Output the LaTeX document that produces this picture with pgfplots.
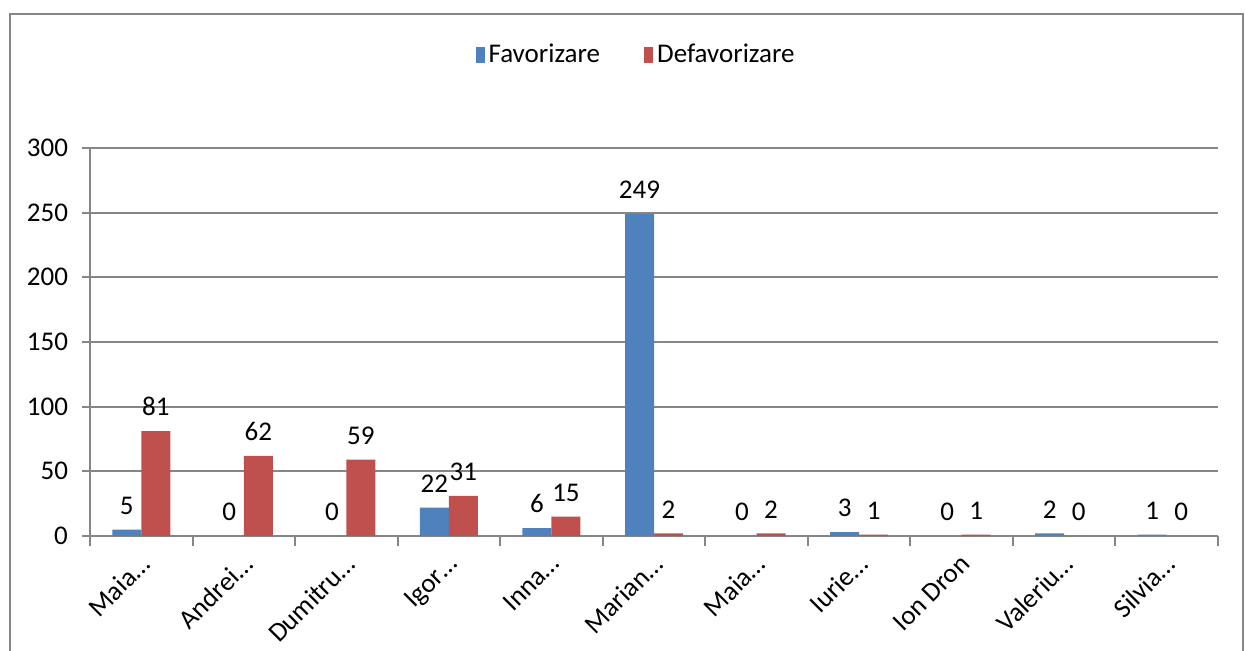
\documentclass[border=0pt]{standalone}
\usepackage{fontspec}
\setmainfont{Carlito}
\usepackage{pgfplots}
\pgfplotsset{compat=1.18}
\definecolor{fav}{RGB}{79,129,189}
\definecolor{def}{RGB}{192,80,77}
\definecolor{gridg}{RGB}{134,134,134}
\begin{document}
\begin{tikzpicture}
\useasboundingbox (0pt,0pt) rectangle (622.5pt,325.5pt);
\draw[gridg, line width=1pt] (5pt,-10pt) rectangle (621.5pt,318.5pt);
\begin{axis}[
  at={(45pt,57.5pt)}, anchor=south west,
  scale only axis, width=564pt, height=194pt,
  font=\fontsize{13.5}{15}\selectfont,
  /pgf/number format/assume math mode=true,
  ymin=0, ymax=300, ytick={0,50,...,300},
  xmin=-0.5, xmax=10.5,
  xtick={0,...,10},
  xticklabels={Maia…,Andrei…,Dumitru…,Igor…,Inna…,Marian…,Maia…,Iurie…,Ion Dron,Valeriu…,Silvia…},
  minor xtick={-0.5,0.5,...,10.5},
  major x tick style={draw=none},
  minor x tick style={gridg, line width=1pt},
  y tick style={gridg, line width=1pt},
  major tick length=4pt, minor tick length=5pt,
  tick align=outside,
  axis x line*=bottom, axis y line*=left,
  axis line style={gridg, line width=1pt, -},
  ymajorgrids, grid style={gridg, line width=1pt},
  yticklabel style={xshift=-3.5pt},
  xticklabel style={rotate=45, anchor=north east, inner sep=1pt, xshift=-3pt, yshift=-1pt},
  ybar=0pt, bar width=14.5pt,
  nodes near coords,
  nodes near coords style={font=\fontsize{13.5}{15}\selectfont, text=black, yshift=4pt},
  legend style={at={(0.485,1.24)}, anchor=center, draw=none, fill=none,
    legend columns=2, font=\fontsize{13.5}{15}\selectfont,
    /tikz/every even column/.append style={column sep=20pt}},
  legend image code/.code={\fill[#1,draw=none] (0pt,-4pt) rectangle (4.5pt,4pt);},
]
\addplot[fill=fav, draw=none] coordinates {(0,5) (1,0) (2,0) (3,22) (4,6) (5,249) (6,0) (7,3) (8,0) (9,2) (10,1)};
\addplot[fill=def, draw=none] coordinates {(0,81) (1,62) (2,59) (3,31) (4,15) (5,2) (6,2) (7,1) (8,1) (9,0) (10,0)};
\legend{Favorizare,Defavorizare}
\end{axis}
\end{tikzpicture}
\end{document}
